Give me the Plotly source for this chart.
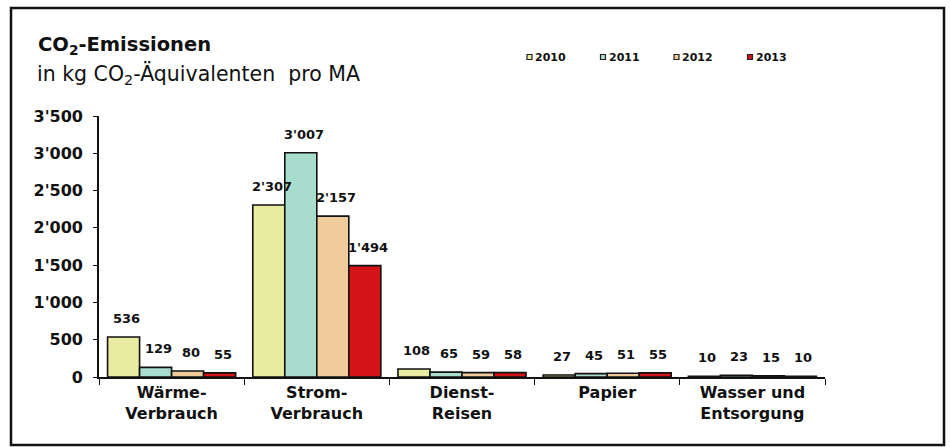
import plotly.graph_objects as go

categories = ["Wärme-<br>Verbrauch", "Strom-<br>Verbrauch", "Dienst-<br>Reisen", "Papier", "Wasser und<br>Entsorgung"]
years = ["2010", "2011", "2012", "2013"]
values_2010 = [536, 2307, 108, 27, 10]
values_2011 = [129, 3007, 65, 45, 23]
values_2012 = [80, 2157, 59, 51, 15]
values_2013 = [55, 1494, 58, 55, 10]
series = [values_2010, values_2011, values_2012, values_2013]
colors = ["#e8eca0", "#a8dccc", "#f0cc9c", "#d41418"]
y_ticks = [0, 500, 1000, 1500, 2000, 2500, 3000, 3500]

FONT = "DejaVu Sans"
W_FIG, H_FIG = 950, 447
L, R, T, B = 99, 825, 116, 377


def px(x):
    return (x - L) / (R - L)


def py(y):
    return (B - y) / (B - T)


def fmt(v):
    return f"{v:,}".replace(",", "'")


fig = go.Figure()
for name, vals, col in zip(years, series, colors):
    fig.add_trace(go.Bar(
        x=categories, y=vals, name=name,
        marker=dict(color=col, line=dict(color="#111111", width=1.6)),
        showlegend=False, hoverinfo="skip",
    ))

annotations = []
n = len(years)
bar_px = (R - L) / len(categories) * (1 - 0.118) / n
for i, vals in enumerate(series):
    for c, v in zip(categories, vals):
        annotations.append(dict(
            x=c, y=v, xref="x", yref="y", text=fmt(v), showarrow=False,
            xshift=(i - (n - 1) / 2) * bar_px + 3, yanchor="bottom", yshift=9,
            font=dict(family=FONT, size=13, color="#111111", weight="bold"),
        ))

# Title block
annotations.append(dict(
    x=px(36), y=py(46), xref="paper", yref="paper", xanchor="left", yanchor="middle",
    text="CO<sub>2</sub>-Emissionen", showarrow=False,
    font=dict(family=FONT, size=19.5, color="#111111", weight="bold"),
))
annotations.append(dict(
    x=px(35), y=py(74), xref="paper", yref="paper", xanchor="left", yanchor="middle",
    text="in kg CO<sub>2</sub>-Äquivalenten  pro MA", showarrow=False,
    font=dict(family=FONT, size=20.5, color="#111111"),
))

# Manual legend
shapes = []
leg_x0, leg_step, leg_y = 527, 73.5, 57
for i, (name, col) in enumerate(zip(years, colors)):
    mx = leg_x0 + i * leg_step
    shapes.append(dict(
        type="rect", xref="paper", yref="paper",
        x0=px(mx), x1=px(mx + 5), y0=py(leg_y + 2.5), y1=py(leg_y - 2.5),
        fillcolor=col, line=dict(color="#222222", width=1.2),
    ))
    annotations.append(dict(
        x=px(mx + 6), y=py(leg_y), xref="paper", yref="paper",
        xanchor="left", yanchor="middle", text=name, showarrow=False,
        font=dict(family=FONT, size=11, color="#111111", weight="bold"),
    ))

# Outer frame
shapes.append(dict(
    type="rect", xref="paper", yref="paper",
    x0=px(11), x1=px(944), y0=py(445), y1=py(8),
    line=dict(color="#111111", width=2.5), fillcolor="rgba(0,0,0,0)", layer="below",
))

fig.update_layout(
    width=W_FIG, height=H_FIG,
    margin=dict(l=L, r=W_FIG - R, t=T, b=H_FIG - B, pad=0),
    paper_bgcolor="white", plot_bgcolor="white",
    barmode="group", bargap=0.118, bargroupgap=0,
    separators=".'",
    showlegend=False,
    annotations=annotations, shapes=shapes,
    font=dict(family=FONT, color="#111111"),
)
fig.update_xaxes(
    type="category", showgrid=False, showline=True, linecolor="#111111", linewidth=1.6,
    ticks="outside", tickson="boundaries", ticklen=6, tickcolor="#111111", tickwidth=1.4,
    tickfont=dict(family=FONT, size=16, color="#111111", weight="bold"),
    zeroline=False,
)
fig.update_yaxes(
    range=[0, 3500], tickvals=y_ticks, tickformat=",d",
    showgrid=False, showline=True, linecolor="#111111", linewidth=1.6,
    ticks="outside", ticklen=4, tickcolor="#111111", tickwidth=1.4,
    ticklabelstandoff=7,
    tickfont=dict(family=FONT, size=16, color="#111111", weight="bold"),
    zeroline=False,
)

fig.write_html(
    "out.html",
    config={"displayModeBar": False},
    post_script="document.body.style.margin='0';document.body.style.overflow='hidden';",
)
